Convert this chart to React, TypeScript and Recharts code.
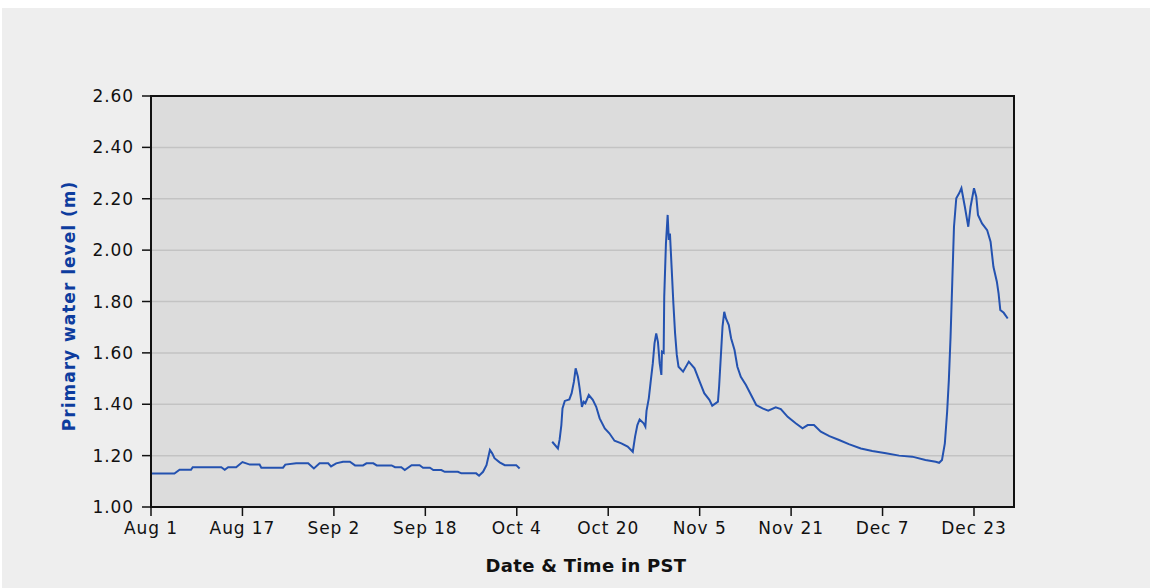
import { LineChart, Line, XAxis, YAxis, CartesianGrid, ReferenceArea, Label } from "recharts";

// day offset from Aug 1
const DAYS = [
  0, 4.1, 5.0, 7.0, 7.3, 12.3, 12.9, 13.5, 14.9, 16.0, 17.3, 19.0, 19.3, 23.1, 23.5, 25.4, 27.5, 28.5,
  29.5, 31.0, 31.5, 32.4, 33.6, 34.8, 35.7, 37.1, 37.7, 38.9, 39.5, 42.1, 42.7, 43.8, 44.4, 45.6, 47.0,
  47.6, 48.8, 49.4, 50.8, 51.4, 53.7, 54.3, 56.9, 57.4, 58.1, 58.7, 59.3, 59.7, 60.1, 61.0, 61.9, 63.9,
  64.5, 67,
  70.2, 71.2, 71.5, 71.8, 72.0, 72.4, 73.2, 73.6, 74.0, 74.3, 74.7, 75.0, 75.4, 75.7, 76.0, 76.6, 77.3,
  77.9, 78.5, 79.4, 80.2, 81.1, 82.3, 83.4, 84.3, 84.7, 85.1, 85.5, 86.2, 86.5, 86.7, 87.1, 87.4, 87.8,
  88.1, 88.4, 88.7, 89.0, 89.3, 89.4, 89.7, 89.8, 90.1, 90.4, 90.6, 90.8, 91.1, 91.4, 91.7, 92.0, 92.3,
  93.1, 94.1, 95.1, 96.0, 96.8, 97.7, 98.2, 99.2, 99.4, 99.7, 100.0, 100.3, 100.6, 101.1, 101.5, 102.1,
  102.6, 103.2, 104.1, 105.0, 105.9, 107.0, 108.0, 109.3, 110.2, 111.4, 112.8, 114.0, 114.9, 116.0,
  117.2, 118.7, 120.4, 122.1, 124.2, 126.2, 128.6, 130.9, 133.2, 135.5, 137.3, 137.9, 138.4, 138.9,
  139.3, 139.6, 139.9, 140.2, 140.5, 140.9, 141.4, 141.8, 142.4, 143.0, 143.4, 144.0, 144.4, 144.7,
  145.4, 146.3, 146.9, 147.4, 148.0, 148.3, 148.6, 149.2, 149.9,
];

const LEVELS: (number | null)[] = [
  1.13, 1.13, 1.145, 1.145, 1.155, 1.155, 1.145, 1.155, 1.155, 1.175, 1.165, 1.165, 1.153, 1.153, 1.165,
  1.17, 1.17, 1.15, 1.17, 1.17, 1.158, 1.17, 1.176, 1.176, 1.162, 1.162, 1.17, 1.17, 1.162, 1.162, 1.155,
  1.155, 1.144, 1.163, 1.163, 1.153, 1.153, 1.144, 1.144, 1.137, 1.137, 1.131, 1.131, 1.122, 1.137,
  1.163, 1.222, 1.209, 1.19, 1.174, 1.163, 1.163, 1.15, null,
  1.254, 1.228, 1.263, 1.319, 1.384, 1.413, 1.419, 1.443, 1.488, 1.54, 1.507, 1.462, 1.39, 1.41, 1.404,
  1.436, 1.417, 1.39, 1.345, 1.306, 1.287, 1.258, 1.248, 1.235, 1.215, 1.274, 1.319, 1.341, 1.326,
  1.313, 1.374, 1.423, 1.482, 1.559, 1.637, 1.676, 1.643, 1.56, 1.514, 1.605, 1.6, 1.819, 2.026, 2.137,
  2.04, 2.065, 1.93, 1.793, 1.676, 1.592, 1.546, 1.527, 1.566, 1.54, 1.488, 1.443, 1.417, 1.394, 1.41,
  1.468, 1.585, 1.702, 1.76, 1.734, 1.708, 1.657, 1.611, 1.546, 1.507, 1.475, 1.436, 1.397, 1.384,
  1.375, 1.388, 1.381, 1.351, 1.326, 1.306, 1.319, 1.319, 1.293, 1.276, 1.261, 1.245, 1.228, 1.218,
  1.209, 1.2, 1.196, 1.183, 1.176, 1.172, 1.183, 1.248, 1.371, 1.494, 1.663, 1.877, 2.091, 2.202, 2.221,
  2.241, 2.169, 2.091, 2.169, 2.241, 2.208, 2.137, 2.104, 2.078, 2.033, 1.935, 1.877, 1.832, 1.767,
  1.756, 1.734,
];

const TICK_DAYS = [0, 16, 32, 48, 64, 80, 96, 112, 128, 144];
const TICK_LABELS = ["Aug 1", "Aug 17", "Sep 2", "Sep 18", "Oct 4", "Oct 20", "Nov 5", "Nov 21", "Dec 7", "Dec 23"];
const Y_TICKS = [1.0, 1.2, 1.4, 1.6, 1.8, 2.0, 2.2, 2.4, 2.6];

const data = DAYS.map((d, i) => ({ day: d, level: LEVELS[i] }));

const TICK_STYLE = { fill: "#111", fontSize: 17, fontFamily: "DejaVu Sans", letterSpacing: 0.9 };

export default function App() {
  return (
    <div style={{ position: "absolute", left: 2, top: 8, width: 1148, height: 580, background: "#eeeeee" }}>
      <LineChart width={1148} height={580} data={data} margin={{ top: 88, right: 136, bottom: 41, left: 89 }}>
        <CartesianGrid vertical={false} fill="#dcdcdc" stroke="#c3c3c3" strokeWidth={1.5} />
        <XAxis
          dataKey="day"
          type="number"
          domain={[0, 151]}
          ticks={TICK_DAYS}
          interval={0}
          tickFormatter={(v: number) => TICK_LABELS[TICK_DAYS.indexOf(v)]}
          tick={TICK_STYLE}
          tickSize={9}
          tickMargin={6}
          height={40}
          axisLine={{ stroke: "#111", strokeWidth: 2 }}
          tickLine={{ stroke: "#111", strokeWidth: 1.5 }}
        >
          <Label
            content={() => (
              <text x={584} y={564} textAnchor="middle" fontFamily="DejaVu Sans" fontWeight="bold" fontSize={18} letterSpacing={0.3} fill="#111">
                Date &amp; Time in PST
              </text>
            )}
          />
        </XAxis>
        <YAxis
          type="number"
          domain={[1, 2.6]}
          ticks={Y_TICKS}
          interval={0}
          tickFormatter={(v: number) => v.toFixed(2)}
          tick={TICK_STYLE}
          tickSize={9}
          tickMargin={8}
          width={60}
          axisLine={{ stroke: "#111", strokeWidth: 2 }}
          tickLine={{ stroke: "#111", strokeWidth: 1.5 }}
        >
          <Label
            content={() => (
              <text
                x={66.5}
                y={298}
                transform="rotate(-90, 66.5, 298)"
                textAnchor="middle"
                dominantBaseline="central"
                fontFamily="DejaVu Sans"
                fontWeight="bold"
                fontSize={17}
                letterSpacing={1}
                fill="#0d3c9e"
              >
                Primary water level (m)
              </text>
            )}
          />
        </YAxis>
        <ReferenceArea x1={0} x2={151} y1={1} y2={2.6} fill="none" stroke="#111" strokeWidth={2} />
        <Line
          type="linear"
          dataKey="level"
          stroke="#2452b0"
          strokeWidth={2}
          dot={false}
          connectNulls={false}
          isAnimationActive={false}
        />
      </LineChart>
    </div>
  );
}
